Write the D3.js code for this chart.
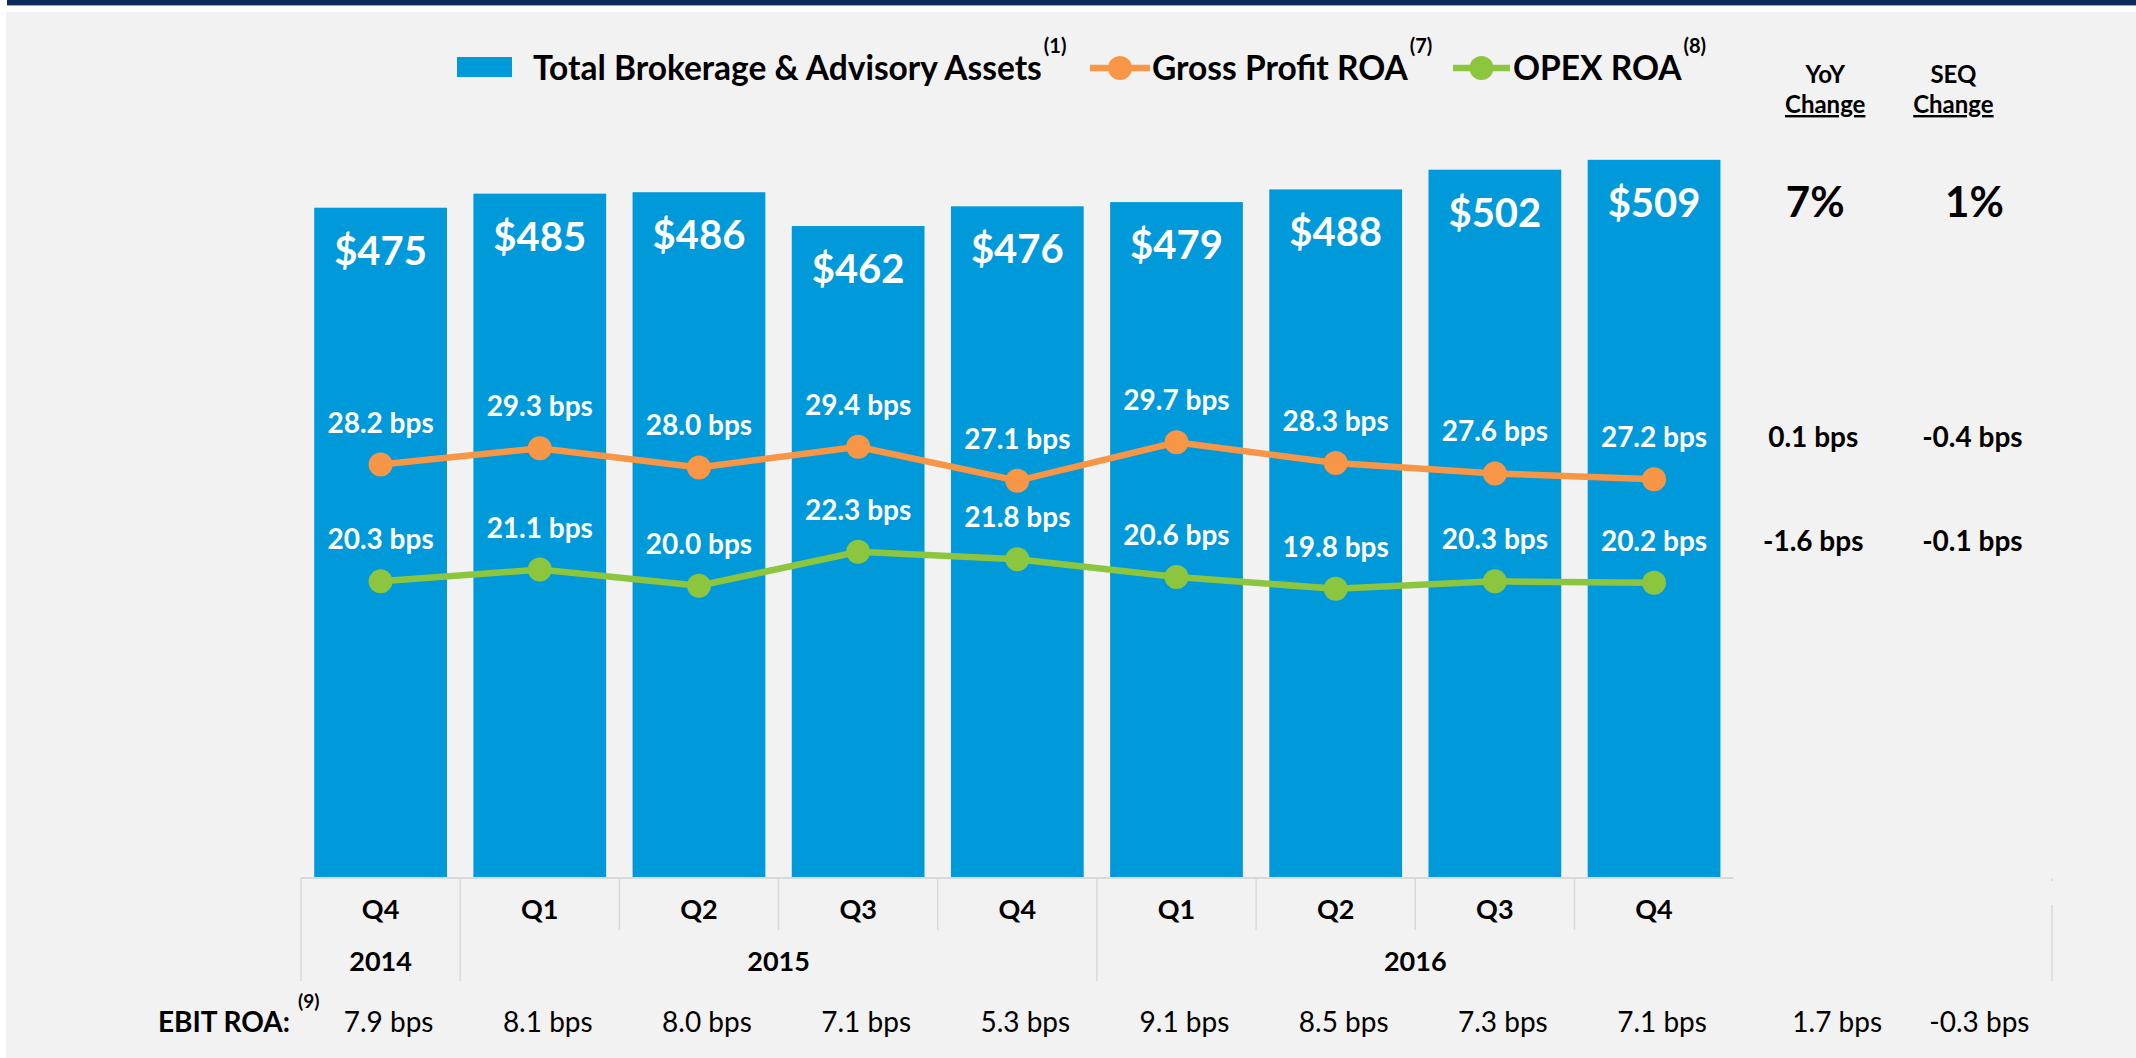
<!DOCTYPE html>
<html>
<head>
<meta charset="utf-8">
<script src="https://cdn.jsdelivr.net/npm/d3@7"></script>
<style>
  body { margin: 0; background: #fff; }
  svg text { font-family: Lato, "Open Sans", sans-serif; }
</style>
</head>
<body>
<svg id="chart" width="2136" height="1058"></svg>
<script>
// data
const quarters = ['Q4', 'Q1', 'Q2', 'Q3', 'Q4', 'Q1', 'Q2', 'Q3', 'Q4'];
const yearLabels = ['2014', '2015', '2016'];
const yearSpans = [1, 4, 4];
const assets = [475, 485, 486, 462, 476, 479, 488, 502, 509];
const grossProfitROA = [28.2, 29.3, 28.0, 29.4, 27.1, 29.7, 28.3, 27.6, 27.2];
const opexROA = [20.3, 21.1, 20.0, 22.3, 21.8, 20.6, 19.8, 20.3, 20.2];
const ebitROA = [7.9, 8.1, 8.0, 7.1, 5.3, 9.1, 8.5, 7.3, 7.1];
const changeHeaders = ['YoY', 'SEQ'];
const assetChange = ['7%', '1%'];
const gpChange = ['0.1 bps', '-0.4 bps'];
const opexChange = ['-1.6 bps', '-0.1 bps'];
const ebitChange = ['1.7 bps', '-0.3 bps'];

const blue = '#009ada', orange = '#f79646', green = '#8cc63f', grid = '#d9d9d9';

const svg = d3.select('#chart');

// slide background + top band
svg.append('rect').attr('x', 6).attr('y', 12).attr('width', 2130).attr('height', 1046).attr('fill', '#f2f2f2');
svg.append('rect').attr('x', 7).attr('y', 0).attr('width', 2129).attr('height', 5).attr('fill', '#0c2b5c');
svg.append('rect').attr('x', 7).attr('y', 5).attr('width', 2129).attr('height', 1).attr('fill', '#9aa9c3');

// 9 quarters + 2 change columns
const cols = d3.range(quarters.length + changeHeaders.length);
const x = d3.scaleBand().domain(cols).range([301, 2052]).paddingInner(0.166).paddingOuter(0.083);
const step = x.step();
const left = i => 301 + i * step;
const mid = i => x(i) + x.bandwidth() / 2;

const y = d3.scaleLinear().domain([0, 600]).range([877, 877 - 600 * 1.409]);
const y2 = d3.scaleLinear().domain([0, 30]).range([881.6, 437.9]);

// bars
const bars = svg.append('g');
bars.selectAll('rect').data(assets).join('rect')
  .attr('x', (d, i) => x(i)).attr('width', x.bandwidth())
  .attr('y', d => y(d)).attr('height', d => y(0) - y(d))
  .attr('fill', blue);
bars.selectAll('text').data(assets).join('text')
  .attr('x', (d, i) => mid(i)).attr('y', d => y(d) + 57)
  .attr('text-anchor', 'middle').attr('fill', '#fff')
  .attr('font-size', 40).attr('font-weight', 700)
  .text(d => '$' + d);

// category axis table
const axis = svg.append('g');
axis.append('line').attr('x1', 301).attr('x2', left(quarters.length))
  .attr('y1', 878).attr('y2', 878).attr('stroke', grid).attr('stroke-width', 2);
let yearStarts = [0];
yearSpans.forEach((s, i) => yearStarts.push(yearStarts[i] + s));
quarters.forEach((q, i) => {
  const isYearEdge = yearStarts.slice(0, -1).includes(i);
  axis.append('line').attr('x1', left(i)).attr('x2', left(i))
    .attr('y1', 878).attr('y2', isYearEdge ? 981 : 930)
    .attr('stroke', grid).attr('stroke-width', 1.5);
  axis.append('text').attr('x', mid(i)).attr('y', 919)
    .attr('text-anchor', 'middle').attr('font-size', 27).attr('font-weight', 700)
    .text(q);
});
yearLabels.forEach((yr, i) => {
  const a = left(yearStarts[i]), b = left(yearStarts[i + 1]);
  axis.append('text').attr('x', (a + b) / 2).attr('y', 971)
    .attr('text-anchor', 'middle').attr('font-size', 27).attr('font-weight', 700)
    .text(yr);
});
const edge = left(cols.length);
axis.append('line').attr('x1', edge).attr('x2', edge).attr('y1', 878).attr('y2', 881).attr('stroke', grid).attr('stroke-width', 1.5);
axis.append('line').attr('x1', edge).attr('x2', edge).attr('y1', 905).attr('y2', 981).attr('stroke', grid).attr('stroke-width', 1.5);

// ROA lines
function drawSeries(values, color, changes) {
  const g = svg.append('g');
  const line = d3.line().x((d, i) => mid(i)).y(d => y2(d));
  g.append('path').datum(values).attr('d', line)
    .attr('fill', 'none').attr('stroke', color).attr('stroke-width', 6.5);
  g.selectAll('circle').data(values).join('circle')
    .attr('cx', (d, i) => mid(i)).attr('cy', d => y2(d)).attr('r', 12)
    .attr('fill', color);
  g.selectAll('text.lbl').data(values).join('text').attr('class', 'lbl')
    .attr('x', (d, i) => mid(i)).attr('y', d => y2(d) - 32)
    .attr('text-anchor', 'middle').attr('fill', '#fff')
    .attr('font-size', 28).attr('font-weight', 700)
    .text(d => d.toFixed(1) + ' bps');
  const last = values[values.length - 1];
  g.selectAll('text.chg').data(changes).join('text').attr('class', 'chg')
    .attr('x', (d, i) => mid(quarters.length + i)).attr('y', y2(last) - 32)
    .attr('text-anchor', 'middle').attr('fill', '#000')
    .attr('font-size', 28).attr('font-weight', 700)
    .text(d => d);
}
drawSeries(grossProfitROA, orange, gpChange);
drawSeries(opexROA, green, opexChange);

// change columns
const hdrX = [mid(9) + 12, mid(10) - 19];
changeHeaders.forEach((h, i) => {
  svg.append('text').attr('x', hdrX[i]).attr('y', 83).attr('text-anchor', 'middle')
    .attr('font-size', 24).attr('font-weight', 700).text(h);
  svg.append('text').attr('x', hdrX[i]).attr('y', 113).attr('text-anchor', 'middle')
    .attr('font-size', 24).attr('font-weight', 700)
    .attr('text-decoration', 'underline').text('Change');
});
assetChange.forEach((c, i) => {
  svg.append('text').attr('x', mid(quarters.length + i) + 2).attr('y', 217)
    .attr('text-anchor', 'middle').attr('font-size', 42).attr('font-weight', 700).text(c);
});

// EBIT row
svg.append('text').attr('x', 290).attr('y', 1032).attr('text-anchor', 'end')
  .attr('font-size', 28).attr('font-weight', 700).text('EBIT ROA:');
svg.append('text').attr('x', 298).attr('y', 1008)
  .attr('font-size', 19).attr('font-weight', 700).text('(9)');
ebitROA.forEach((v, i) => {
  svg.append('text').attr('x', mid(i) + 8).attr('y', 1032).attr('text-anchor', 'middle')
    .attr('font-size', 28).text(v.toFixed(1) + ' bps');
});
const ebitDx = [24, 7];
ebitChange.forEach((c, i) => {
  svg.append('text').attr('x', mid(quarters.length + i) + ebitDx[i]).attr('y', 1032)
    .attr('text-anchor', 'middle').attr('font-size', 28).text(c);
});

// legend
const legend = svg.append('g');
function legendLabel(x0, label, note) {
  const t = legend.append('text').attr('x', x0).attr('y', 80)
    .attr('font-size', 33.5).attr('font-weight', 700).text(label);
  const w = t.node().getComputedTextLength();
  legend.append('text').attr('x', x0 + w + 2).attr('y', 53)
    .attr('font-size', 20).attr('font-weight', 700).text(note);
}
legend.append('rect').attr('x', 457).attr('y', 57).attr('width', 55).attr('height', 20).attr('fill', blue);
legendLabel(533, 'Total Brokerage & Advisory Assets', '(1)');
[[1090, 1150, orange, 1152, 'Gross Profit ROA', '(7)'], [1453, 1510, green, 1513, 'OPEX ROA', '(8)']]
  .forEach(([a, b, c, tx, label, note]) => {
    legend.append('line').attr('x1', a).attr('x2', b).attr('y1', 68).attr('y2', 68)
      .attr('stroke', c).attr('stroke-width', 6.5);
    legend.append('circle').attr('cx', (a + b) / 2).attr('cy', 68).attr('r', 12).attr('fill', c);
    legendLabel(tx, label, note);
  });
</script>
</body>
</html>
